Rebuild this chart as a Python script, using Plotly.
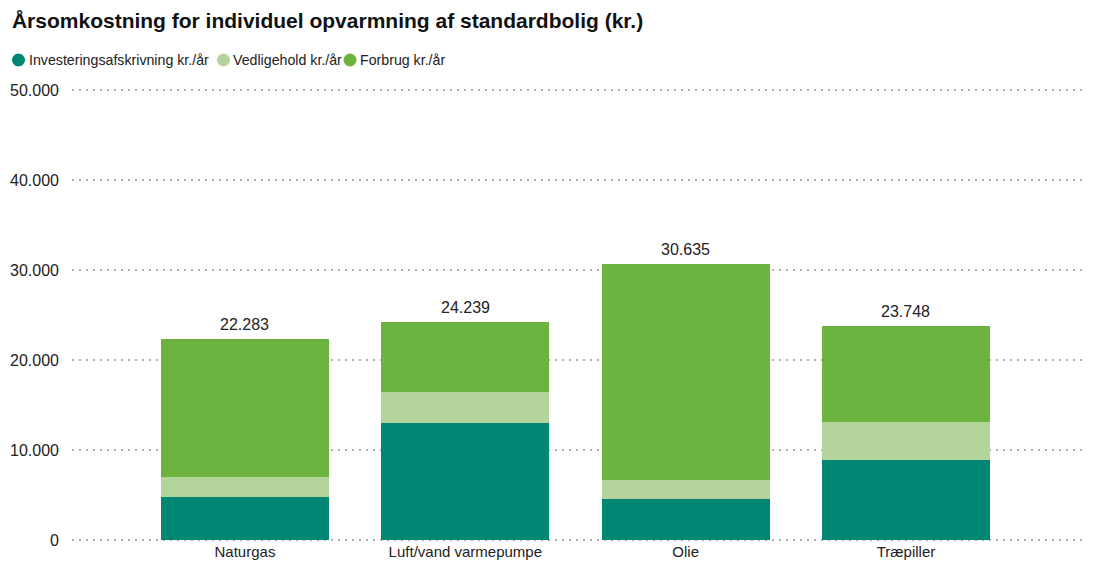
import plotly.graph_objects as go

categories = ["Naturgas", "Luft/vand varmepumpe", "Olie", "Træpiller"]
investering = [4815, 12950, 4590, 8880]
vedligehold = [2165, 3470, 2080, 4180]
forbrug = [15303, 7819, 23965, 10688]

series_names = ["Investeringsafskrivning kr./år", "Vedligehold kr./år", "Forbrug kr./år"]
series_colors = ["#008773", "#b3d59b", "#6db33f"]
y_ticks = [0, 10000, 20000, 30000, 40000, 50000]

FONT = "Liberation Sans, Arial, sans-serif"

ML, MR, MT, MB = 64, 20, 81, 23
W, H = 1098, 556
PW, PH = W - ML - MR, H - MT - MB

def dk(v):
    return f"{v:,}".replace(",", ".")

fig = go.Figure()
for name, vals, col in zip(series_names, [investering, vedligehold, forbrug], series_colors):
    fig.add_trace(go.Bar(
        x=categories, y=vals, name=name,
        marker=dict(color=col, line=dict(width=0)),
        showlegend=False,
    ))

totals = [a + b + c for a, b, c in zip(investering, vedligehold, forbrug)]
for cat, tot in zip(categories, totals):
    fig.add_annotation(
        x=cat, y=tot, text=dk(tot), showarrow=False,
        yanchor="bottom", yshift=4,
        font=dict(family=FONT, size=16, color="#222222"),
    )

# legend: circle markers + text (pixel positions in figure coordinates)
legend_circle_px = [10.5, 215.5, 342]
legend_text_px = [19, 223, 350]
legend_y_px = 52
ly = 1 + (MT - legend_y_px) / PH
for name, col, cx, tx in zip(series_names, series_colors, legend_circle_px, legend_text_px):
    fig.add_shape(
        type="circle", xref="paper", yref="paper",
        xsizemode="pixel", ysizemode="pixel",
        xanchor=(cx - ML) / PW, yanchor=ly,
        x0=-6.5, x1=6.5, y0=-6.5, y1=6.5,
        fillcolor=col, line=dict(width=0),
    )
    fig.add_annotation(
        xref="paper", yref="paper", x=(tx - ML) / PW, y=ly,
        xanchor="left", yanchor="middle", showarrow=False,
        text=name, font=dict(family=FONT, size=14.2, color="#222222"),
    )

fig.update_layout(
    width=W, height=H,
    margin=dict(l=ML, r=MR, t=MT, b=MB),
    paper_bgcolor="white", plot_bgcolor="white",
    separators=",.",
    barmode="stack", bargap=0.2375,
    title=dict(
        text="<b>Årsomkostning for individuel opvarmning af standardbolig (kr.)</b>",
        x=0.0036, xanchor="left", y=0.978, yanchor="middle",
        font=dict(family=FONT, size=21, color="#111111"),
    ),
    font=dict(family=FONT, size=14, color="#222222"),
    xaxis=dict(
        range=[-0.785, 3.817], showgrid=False, showline=False, zeroline=False,
        ticks="", automargin=False,
        tickfont=dict(family=FONT, size=15, color="#222222"),
    ),
    yaxis=dict(
        range=[-120, 50120], tickvals=y_ticks, tickformat=",d",
        showgrid=True, gridcolor="#b0b0b0", gridwidth=2, griddash="2px,5px",
        zeroline=False, showline=False, ticks="", ticklabelstandoff=12,
        automargin=False,
        tickfont=dict(family=FONT, size=16, color="#222222"),
    ),
)

fig.write_html("out.html")
